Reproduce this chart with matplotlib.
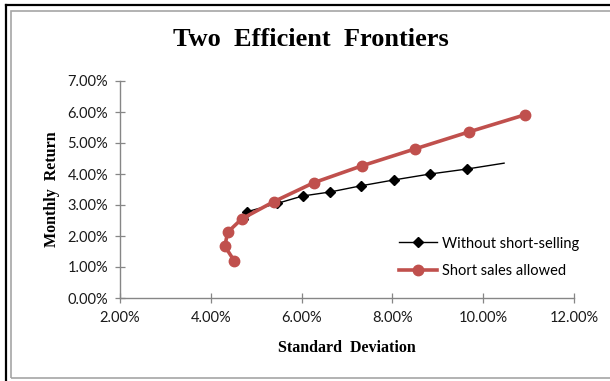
import matplotlib
matplotlib.use("Agg")
import matplotlib.pyplot as plt
from matplotlib.lines import Line2D
from matplotlib.patches import Rectangle
from matplotlib.ticker import FuncFormatter

# Efficient frontier points (standard deviation %, monthly return %)
no_short_sd = [4.70, 4.79, 5.46, 6.02, 6.63, 7.31, 8.04, 8.83, 9.64, 10.46]
no_short_ret = [2.55, 2.78, 3.05, 3.29, 3.42, 3.62, 3.81, 4.00, 4.16, 4.35]

short_sd = [4.52, 4.31, 4.37, 4.68, 5.39, 6.27, 7.32, 8.50, 9.69, 10.92]
short_ret = [1.19, 1.67, 2.12, 2.55, 3.11, 3.72, 4.26, 4.81, 5.36, 5.91]

x_ticks = [2, 4, 6, 8, 10, 12]
y_ticks = [0, 1, 2, 3, 4, 5, 6, 7]

W, H = 610, 381
fig = plt.figure(figsize=(W / 100, H / 100), dpi=100)
fig.patch.set_facecolor("white")

# Outer frames
fig.add_artist(Line2D([6 / W, 6 / W], [0, 1 - 5 / H], color="black", lw=1.6,
                      transform=fig.transFigure))
fig.add_artist(Line2D([6 / W, 1], [1 - 5 / H, 1 - 5 / H], color="black", lw=1.6,
                      transform=fig.transFigure))
fig.add_artist(Rectangle((10.5 / W, 1 - 377.5 / H), (W + 5 - 10.5) / W, (377.5 - 10.5) / H,
                         fill=False, ec="#a6a6a6", lw=1.2, transform=fig.transFigure))

ax = fig.add_axes([120 / W, 1 - 298 / H, (574 - 120) / W, (298 - 81) / H])

tick_font = "Lato"
red = "#C0504D"

ax.plot(no_short_sd, no_short_ret, color="black", lw=1.0, marker="D", ms=5.5,
        markevery=list(range(len(no_short_sd) - 1)), label="Without short-selling",
        zorder=3)
ax.plot(short_sd, short_ret, color=red, lw=2.6, marker="o", ms=7.5,
        label="Short sales allowed", zorder=4)

ax.set_xlim(2, 12)
ax.set_ylim(0, 7)
ax.set_xticks(x_ticks)
ax.set_yticks(y_ticks)
ax.xaxis.set_major_formatter(FuncFormatter(lambda v, p: f"{v:.2f}%"))
ax.yaxis.set_major_formatter(FuncFormatter(lambda v, p: f"{v:.2f}%"))

for s in ["top", "right"]:
    ax.spines[s].set_visible(False)
for s in ["left", "bottom"]:
    ax.spines[s].set_color("#868686")
    ax.spines[s].set_linewidth(1.0)

ax.tick_params(axis="both", direction="inout", length=7, width=0.9, color="#868686",
               labelsize=10.5, labelcolor="#1a1a1a")
ax.tick_params(axis="x", pad=6)
ax.tick_params(axis="y", pad=5)
for lbl in ax.get_xticklabels() + ax.get_yticklabels():
    lbl.set_fontfamily(tick_font)

ax.set_xlabel("Standard  Deviation", fontfamily="Liberation Serif", fontweight="bold",
              fontsize=11.5, labelpad=11)
ax.set_ylabel("Monthly  Return", fontfamily="Liberation Serif", fontweight="bold",
              fontsize=11.5, labelpad=5)

fig.text(311 / W, 1 - 40 / H, "Two  Efficient  Frontiers", ha="center", va="center",
         fontfamily="Liberation Serif", fontweight="bold", fontsize=19)

leg = ax.legend(loc="lower right", bbox_to_anchor=(1.04, 0.03), frameon=False,
                prop={"family": tick_font, "size": 10.5}, handlelength=2.6,
                labelspacing=0.95, handletextpad=0.3)

fig.savefig("out.png", dpi=100, facecolor="white")
